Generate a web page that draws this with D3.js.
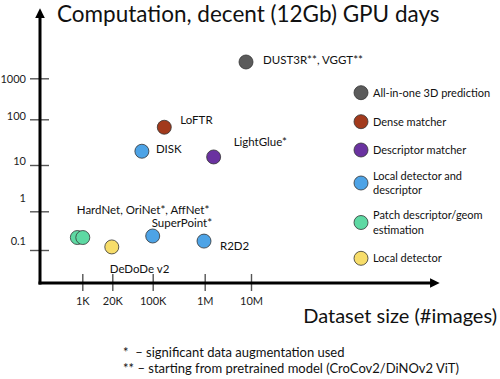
<!DOCTYPE html>
<html>
<head>
<meta charset="utf-8">
<script src="https://cdn.jsdelivr.net/npm/d3@7"></script>
<style>
  html, body { margin: 0; padding: 0; background: #fff; }
  svg { display: block; font-family: Lato, "Open Sans", sans-serif; }
</style>
</head>
<body>
<div id="chart"></div>
<script>
// Data
const categories = ["All-in-one 3D prediction", "Dense matcher", "Descriptor matcher",
  "Local detector and|descriptor", "Patch descriptor/geom|estimation", "Local detector"];
const categoryColors = ["#5b5b5b", "#a23a1c", "#6a32a0", "#4da3e6", "#5ed9a3", "#f7dd6a"];

const methods = ["DUST3R/VGGT", "LoFTR", "DISK", "LightGlue", "HardNet", "OriNet/AffNet", "DeDoDe v2", "SuperPoint", "R2D2"];
const methodCategory = [0, 1, 3, 2, 4, 4, 5, 3, 3];
const datasetSize = [7.8e6, 1.67e5, 6.5e4, 1.56e6, 610, 1050, 1.9e4, 1e5, 9.7e5];
const gpuDays = [2500, 67, 20, 15, 0.21, 0.21, 0.12, 0.23, 0.17];
const methodLabels = ["DUST3R**, VGGT**", "LoFTR", "DISK", "LightGlue*", "",
  "HardNet, OriNet*, AffNet*", "DeDoDe v2", "SuperPoint*", "R2D2"];

const xTickValues = [1e3, 2e4, 1e5, 1e6, 1e7];
const xTickLabels = ["1K", "20K", "100K", "1M", "10M"];
const yTickValues = [1000, 100, 10, 1, 0.1];
const yTickLabels = ["1000", "100", "10", "1", "0.1"];

const footnotes = ["*  \u2013 significant data augmentation used",
  "** \u2013 starting from pretrained model (CroCov2/DiNOv2 ViT)"];

// layout (hand-drawn slide: ticks are not evenly spaced)
const width = 500, height = 379;
const origin = { x: 40, y: 283 };
const xTickPx = [82.3, 112.3, 152.7, 204.7, 251];
const yTickPx = [78.3, 119.3, 165, 211.3, 250];
const yLabelDy = [0, -4, -5, -14, -10];
const labelOffset = [[17, -2], [16, -7], [14, -2], [20, -15], [0, 0], [-6, -28], [-2, 22], [-1, -13], [16, 5]];

const svg = d3.select("#chart").append("svg")
  .attr("width", width)
  .attr("height", height);

const x = d3.scaleLinear()
  .domain(xTickValues.map(Math.log10))
  .range(xTickPx);
const y = d3.scaleLinear()
  .domain(yTickValues.map(Math.log10))
  .range(yTickPx);

const defs = svg.append("defs");
defs.append("marker")
  .attr("id", "arrow")
  .attr("viewBox", "0 0 10 10")
  .attr("refX", 2).attr("refY", 5)
  .attr("markerWidth", 3.2).attr("markerHeight", 3.2)
  .attr("orient", "auto")
  .append("path")
  .attr("d", "M0,0 L10,5 L0,10 z")
  .attr("fill", "#000");

// --- Axes ---
const yAxis = svg.append("g")
  .attr("transform", `translate(${origin.x},0)`)
  .call(d3.axisLeft(y)
    .tickValues(yTickValues.map(Math.log10))
    .tickFormat((d, i) => yTickLabels[i])
    .tickSize(0)
    .tickPadding(14))
  .call(g => g.select(".domain").remove());
yAxis.selectAll("line")
  .attr("x1", -10).attr("x2", 9)
  .attr("stroke", "#555").attr("stroke-width", 1.4);
yAxis.selectAll("text")
  .attr("dy", (d, i) => (yLabelDy[i] + 4) + "px")
  .attr("fill", "#222")
  .style("font-size", "11px")
  .style("font-family", "Lato, sans-serif");

const xAxis = svg.append("g")
  .attr("transform", `translate(0,${origin.y})`)
  .call(d3.axisBottom(x)
    .tickValues(xTickValues.map(Math.log10))
    .tickFormat((d, i) => xTickLabels[i])
    .tickSize(0)
    .tickPadding(14))
  .call(g => g.select(".domain").remove());
xAxis.selectAll("line")
  .attr("y1", -9).attr("y2", 8)
  .attr("stroke", "#555").attr("stroke-width", 1.4);
xAxis.selectAll("text")
  .attr("fill", "#222")
  .style("font-size", "11px")
  .style("font-family", "Lato, sans-serif");

// main axis lines with arrow heads
svg.append("line")
  .attr("x1", origin.x).attr("y1", origin.y + 1.5)
  .attr("x2", origin.x).attr("y2", 16)
  .attr("stroke", "#000").attr("stroke-width", 3)
  .attr("marker-end", "url(#arrow)");
svg.append("line")
  .attr("x1", origin.x - 1.5).attr("y1", origin.y)
  .attr("x2", 432).attr("y2", origin.y)
  .attr("stroke", "#000").attr("stroke-width", 3)
  .attr("marker-end", "url(#arrow)");

// axis titles
svg.append("text")
  .attr("x", 57).attr("y", 22)
  .attr("font-size", 22.5)
  .attr("fill", "#111")
  .text("Computation, decent (12Gb) GPU days");
svg.append("text")
  .attr("x", 497).attr("y", 323)
  .attr("text-anchor", "end")
  .attr("font-size", 20)
  .attr("fill", "#111")
  .text("Dataset size (#images)");

// --- Points ---
const pts = methods.map((m, i) => ({
  name: m, cat: methodCategory[i], size: datasetSize[i], days: gpuDays[i], label: methodLabels[i], off: labelOffset[i]
}));

svg.selectAll(".dot")
  .data(pts)
  .enter().append("circle")
  .attr("class", "dot")
  .attr("cx", d => x(Math.log10(d.size)))
  .attr("cy", d => y(Math.log10(d.days)))
  .attr("r", 7)
  .attr("fill", d => categoryColors[d.cat])
  .attr("stroke", "#333")
  .attr("stroke-width", 0.8);

svg.selectAll(".plabel")
  .data(pts.filter(d => d.label))
  .enter().append("text")
  .attr("class", "plabel")
  .attr("x", d => x(Math.log10(d.size)) + d.off[0])
  .attr("y", d => y(Math.log10(d.days)) + d.off[1])
  .attr("dy", "0.35em")
  .attr("font-size", 11.5)
  .attr("fill", "#111")
  .text(d => d.label);

// --- Legend ---
const legendY = [92.7, 121.7, 150, 183, 222.5, 258.3];
const legend = svg.append("g");
categories.forEach((c, i) => {
  const g = legend.append("g").attr("transform", `translate(361,${legendY[i]})`);
  g.append("circle")
    .attr("r", 7)
    .attr("fill", categoryColors[i])
    .attr("stroke", "#333")
    .attr("stroke-width", 0.8);
  const lines = c.split("|");
  lines.forEach((t, j) => {
    g.append("text")
      .attr("x", 12)
      .attr("y", (j - (lines.length - 1) / 2) * 14.5)
      .attr("dy", "0.35em")
      .attr("font-size", 11)
      .attr("fill", "#111")
      .text(t);
  });
});

// footnotes
svg.selectAll(".foot")
  .data(footnotes)
  .enter().append("text")
  .attr("class", "foot")
  .attr("x", 123)
  .attr("y", (d, i) => 357 + i * 16)
  .attr("font-size", 13)
  .attr("fill", "#111")
  .style("white-space", "pre")
  .text(d => d);
</script>
</body>
</html>
